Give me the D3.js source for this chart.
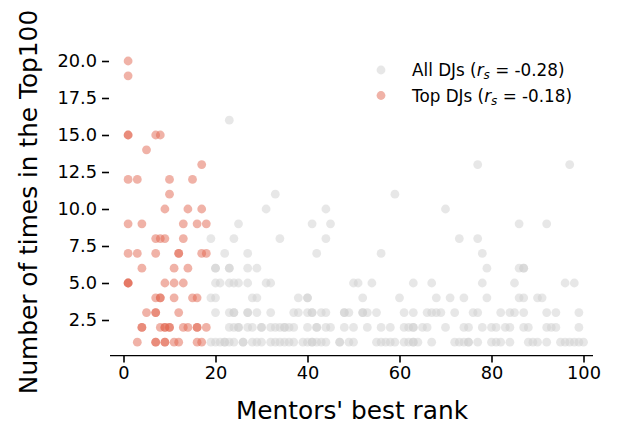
<!DOCTYPE html>
<html><head><meta charset="utf-8">
<script src="https://cdn.jsdelivr.net/npm/d3@7/dist/d3.min.js"></script>
<style>body{margin:0;background:#fff}svg{display:block;font-family:"DejaVu Sans",sans-serif}</style>
</head><body><svg id="c" width="618" height="427"></svg>
<script>
// Top DJs (mentor best rank, times in Top100)
const topX = [1,1, 1,1,7,8, 5, 17, 1,3,10,15, 10, 9,14,17, 1,4,13,16,18, 7,8,9,13,
  1,3,7,12,12,17,18, 4,11,14, 1,1,1,9,11,13, 7,8,8,11,15,16, 5,7,7,12,
  4,4,8,9,9,10,10,13,14,16,16,18, 3,7,7,9,9,11,12,16,17];
const topY = [20,19, 15,15,15,15, 14, 13, 12,12,12,12, 11, 10,10,10, 9,9,9,9,9, 8,8,8,8,
  7,7,7,7,7,7,7, 6,6,6, 5,5,5,5,5,5, 4,4,4,4,4,4, 3,3,3,3,
  2,2,2,2,2,2,2,2,2,2,2,2, 1,1,1,1,1,1,1,1,1];

// All DJs, grouped by number of times in the Top100
const allRows = [
  [16, [23]],
  [13, [77,97]],
  [11, [33,59]],
  [10, [31,44,70]],
  [9,  [25,41,45,86,92]],
  [8,  [19,24,34,44,73,77]],
  [7,  [22,27,42,56,78]],
  [6,  [20,20,23,23,27,29,79,86,87,87]],
  [5,  [20,21,23,24,25,27,31,32,50,51,54,63,67,78,85,96,98]],
  [4,  [19,20,28,29,38,40,40,52,60,68,71,74,79,86,87,90,91]],
  [3,  [20,23,24,24,27,27,29,32,37,38,40,41,41,43,44,48,48,49,52,52,53,55,61,63,66,67,68,69,72,76,77,82,84,85,87,92,94,99]],
  [2,  [23,24,25,25,27,28,30,30,32,33,34,35,35,36,37,40,42,42,44,45,48,50,53,56,58,61,62,63,63,65,66,70,74,75,78,80,81,83,84,87,88,92,93,94,99]],
  [1,  [19,20,21,22,22,23,24,26,26,28,29,30,32,33,34,35,36,37,39,40,41,41,42,43,44,47,47,49,50,55,56,57,58,59,61,62,63,63,64,67,72,73,74,75,75,77,80,81,82,84,88,89,90,92,95,96,97,98,99,100]]
];
const xTicks = [0,20,40,60,80,100];
const yTicks = [2.5,5,7.5,10,12.5,15,17.5,20];
const legendLabels = [["All DJs", "-0.28"], ["Top DJs", "-0.18"]];

const allPts = [];
allRows.forEach(([y, xs]) => xs.forEach(x => allPts.push({x, y})));
const topPts = topX.map((x, i) => ({x, y: topY[i]}));

const svg = d3.select("#c");
const x = d3.scaleLinear().domain([0,100]).range([123.5,583.5]);
const y = d3.scaleLinear().domain([0,20]).range([357,61]);
const greyCol = "#cfcfcf", redCol = "#e2664f";

// axes
const xAxis = svg.append("g").attr("transform","translate(0,355.5)")
  .call(d3.axisBottom(x).tickValues(xTicks).tickFormat(d3.format("d")).tickSize(7).tickPadding(4));
xAxis.select(".domain").attr("d","M110,0H593").attr("stroke","#000").attr("stroke-width",1.25);
const yAxis = svg.append("g").attr("transform","translate(109,0)")
  .call(d3.axisLeft(y).tickValues(yTicks).tickFormat(d3.format(".1f")).tickSize(7).tickPadding(5));
yAxis.select(".domain").remove();
svg.selectAll(".tick line").attr("stroke","#000").attr("stroke-width",1.6);
svg.selectAll(".tick text").attr("font-family","DejaVu Sans").attr("font-size",17.8).attr("fill","#000");

// points
svg.append("g").selectAll("circle").data(allPts).join("circle")
  .attr("cx", d => x(d.x)).attr("cy", d => y(d.y)).attr("r", 4.4)
  .attr("fill", greyCol).attr("fill-opacity", 0.5);
svg.append("g").selectAll("circle").data(topPts).join("circle")
  .attr("cx", d => x(d.x)).attr("cy", d => y(d.y)).attr("r", 4.4)
  .attr("fill", redCol).attr("fill-opacity", 0.5);

// labels
svg.append("text").attr("x", 352).attr("y", 419).attr("text-anchor","middle")
  .attr("font-size", 24.8).attr("fill","#000").text("Mentors' best rank");
svg.append("text").attr("transform","translate(37,202) rotate(-90)").attr("text-anchor","middle")
  .attr("font-size", 24.8).attr("fill","#000").text("Number of times in the Top100");

// legend
const lg = svg.append("g");
legendLabels.forEach(([name, r], i) => {
  const cy = 70 + i*25.5;
  lg.append("circle").attr("cx", 381).attr("cy", cy).attr("r", 4.4)
    .attr("fill", i ? redCol : greyCol).attr("fill-opacity", 0.5);
  const t = lg.append("text").attr("x", 412).attr("y", cy + 6).attr("font-size", 16.8).attr("fill","#000");
  t.append("tspan").text(name + " (");
  t.append("tspan").attr("font-style","italic").text("r");
  t.append("tspan").attr("font-style","italic").attr("font-size", 12).attr("dy", 3).text("s");
  t.append("tspan").attr("dy", -3).text(" = " + r + ")");
});
</script></body></html>
